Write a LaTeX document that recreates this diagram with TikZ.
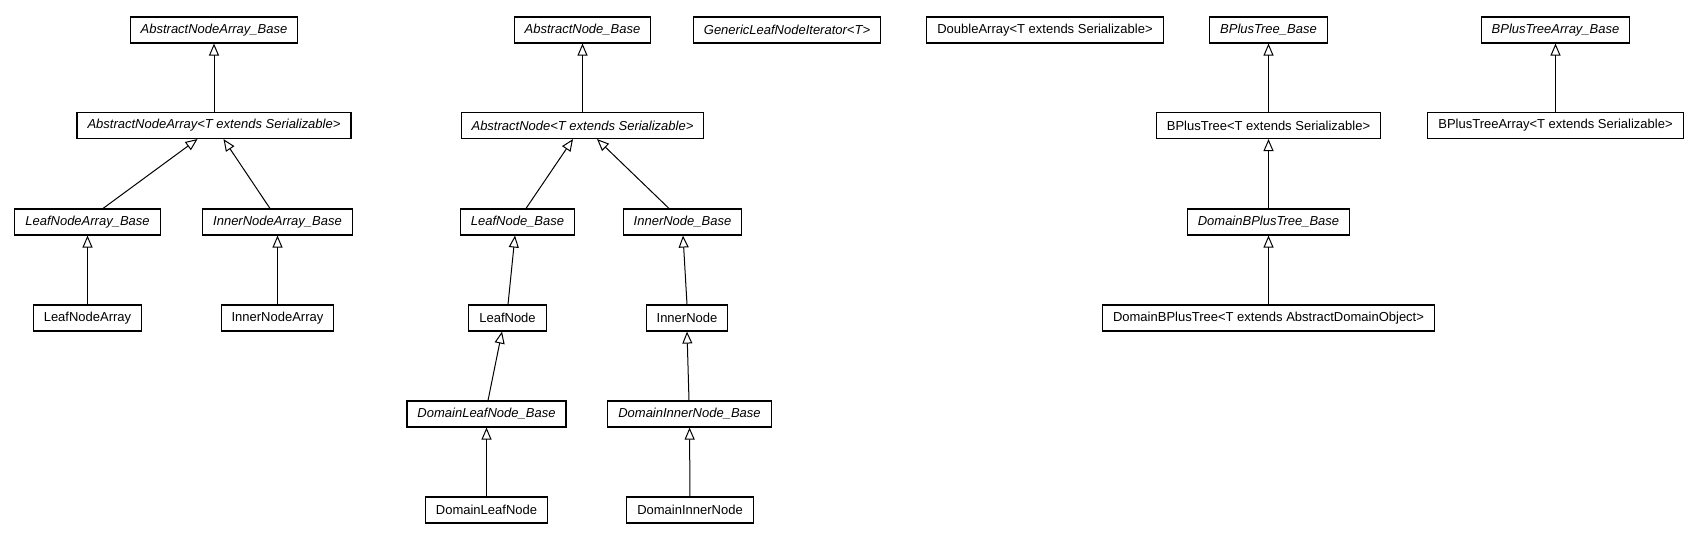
\documentclass[tikz,border=0pt]{standalone}
\usepackage{fontspec}
\setmainfont{Liberation Sans}
\usetikzlibrary{arrows.meta}

\begin{document}
\begin{tikzpicture}[x=1pt,y=-1pt,
		classbox/.style={draw,line width=1.1pt,minimum height=26pt,inner xsep=10.5pt,inner ysep=0pt,font=\fontsize{13}{15}\selectfont},
		abstractbox/.style={classbox,font=\fontsize{13}{15}\selectfont\itshape},
		extends/.style={line width=1pt,-{Triangle[open,length=12pt,width=10pt,line width=1pt]}}]
		\useasboundingbox (0,0) rectangle (1699,539);
		\node[abstractbox] (anab) at (214,30) {AbstractNodeArray\_Base};
		\node[abstractbox] (ana) at (214,125.5) {AbstractNodeArray<T extends Serializable>};
		\node[abstractbox] (lnab) at (87.5,222) {LeafNodeArray\_Base};
		\node[abstractbox] (inab) at (277.5,222) {InnerNodeArray\_Base};
		\node[classbox] (lna) at (87.5,318) {LeafNodeArray};
		\node[classbox] (ina) at (277.5,318) {InnerNodeArray};
		\node[abstractbox] (anb) at (582.5,30) {AbstractNode\_Base};
		\node[abstractbox] (gni) at (787,30) {GenericLeafNodeIterator<T>};
		\node[abstractbox] (an) at (582.5,125.5) {AbstractNode<T extends Serializable>};
		\node[abstractbox] (lnb) at (517.5,222) {LeafNode\_Base};
		\node[abstractbox] (inb) at (682.5,222) {InnerNode\_Base};
		\node[classbox] (ln) at (507.5,318) {LeafNode};
		\node[classbox] (in) at (687,318) {InnerNode};
		\node[abstractbox] (dlnb) at (486.5,414) {DomainLeafNode\_Base};
		\node[abstractbox] (dinb) at (689.5,414) {DomainInnerNode\_Base};
		\node[classbox] (dln) at (486.5,510) {DomainLeafNode};
		\node[classbox] (din) at (690,510) {DomainInnerNode};
		\node[classbox] (da) at (1045,30) {DoubleArray<T extends Serializable>};
		\node[abstractbox] (bptb) at (1268.5,30) {BPlusTree\_Base};
		\node[classbox] (bpt) at (1268.5,125.5) {BPlusTree<T extends Serializable>};
		\node[abstractbox] (dbptb) at (1268.5,222) {DomainBPlusTree\_Base};
		\node[classbox] (dbpt) at (1268.5,318) {DomainBPlusTree<T extends AbstractDomainObject>};
		\node[abstractbox] (bptab) at (1555.5,30) {BPlusTreeArray\_Base};
		\node[classbox] (bpta) at (1555.5,125.5) {BPlusTreeArray<T extends Serializable>};
		\draw[extends] (ana) -- (anab);
		\draw[extends] ([xshift=15.5pt]lnab.north) -- ([xshift=-16.5pt]ana.south);
		\draw[extends] ([xshift=-7.5pt]inab.north) -- ([xshift=9.5pt]ana.south);
		\draw[extends] (lna) -- (lnab);
		\draw[extends] (ina) -- (inab);
		\draw[extends] (an) -- (anb);
		\draw[extends] ([xshift=8.5pt]lnb.north) -- ([xshift=-9.5pt]an.south);
		\draw[extends] ([xshift=-13.5pt]inb.north) -- ([xshift=14.5pt]an.south);
		\draw[extends] ([xshift=0.5pt]ln.north) -- ([xshift=-2.5pt]lnb.south);
		\draw[extends] (in.north) -- ([xshift=0.5pt]inb.south);
		\draw[extends] ([xshift=1.5pt]dlnb.north) -- ([xshift=-5.5pt]ln.south);
		\draw[extends] ([xshift=-0.5pt]dinb.north) -- (in.south);
		\draw[extends] (dln) -- (dlnb);
		\draw[extends] (din) -- (dinb);
		\draw[extends] (bpt) -- (bptb);
		\draw[extends] (dbptb) -- (bpt);
		\draw[extends] (dbpt) -- (dbptb);
		\draw[extends] (bpta) -- (bptab);
	\end{tikzpicture}
\end{document}
